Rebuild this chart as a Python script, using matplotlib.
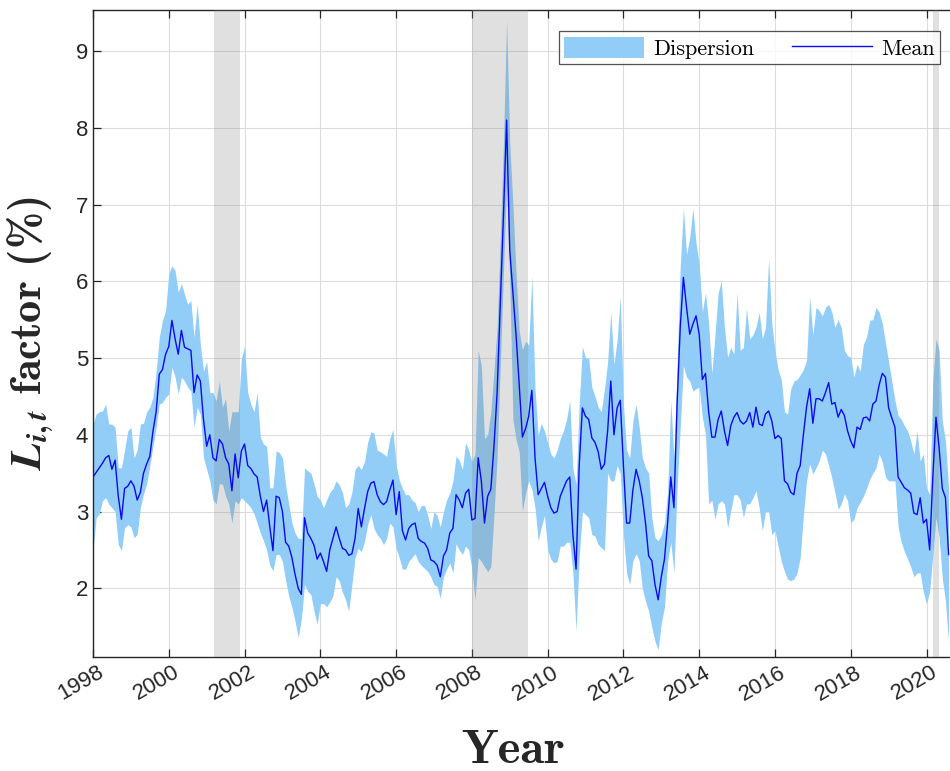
import numpy as np
import matplotlib
matplotlib.use('Agg')
import matplotlib.pyplot as plt
import matplotlib.transforms as mtransforms

plt.rcParams['mathtext.fontset'] = 'custom'
plt.rcParams['mathtext.it'] = 'STIXGeneral:italic:bold'
plt.rcParams['mathtext.rm'] = 'cmb10'
plt.rcParams['axes.unicode_minus'] = False

# 月度数据, 1998-01 起
mean_vals = [
    3.45, 3.51, 3.57, 3.63, 3.70, 3.73, 3.55, 3.67, 3.20, 2.90, 3.30, 3.33,  # 1998
    3.40, 3.33, 3.15, 3.25, 3.50, 3.62, 3.72, 4.05, 4.30, 4.79, 4.85, 5.05,  # 1999
    5.15, 5.49, 5.25, 5.05, 5.36, 5.14, 5.12, 5.10, 4.55, 4.78, 4.70, 4.20,  # 2000
    3.85, 4.00, 3.70, 3.66, 3.94, 3.88, 3.70, 3.62, 3.27, 3.75, 3.44, 3.79,  # 2001
    3.88, 3.60, 3.56, 3.49, 3.45, 3.20, 3.00, 3.15, 2.80, 2.49, 3.20, 3.18,  # 2002
    3.00, 2.60, 2.55, 2.40, 2.18, 2.00, 1.92, 2.92, 2.72, 2.65, 2.56, 2.38,  # 2003
    2.46, 2.35, 2.22, 2.50, 2.65, 2.80, 2.65, 2.52, 2.50, 2.43, 2.45, 2.65,  # 2004
    3.04, 2.80, 3.04, 3.26, 3.37, 3.39, 3.22, 3.13, 3.09, 3.13, 3.28, 3.41,  # 2005
    2.96, 3.26, 2.75, 2.63, 2.78, 2.83, 2.85, 2.65, 2.61, 2.59, 2.52, 2.37,  # 2006
    2.35, 2.30, 2.15, 2.42, 2.50, 2.72, 2.78, 3.22, 3.15, 3.05, 3.24, 3.29,  # 2007
    2.89, 2.91, 3.70, 3.40, 2.85, 3.20, 3.29, 3.85, 4.55, 5.70, 6.85, 8.10,  # 2008
    6.40, 5.85, 5.30, 4.65, 3.97, 4.08, 4.24, 4.58, 3.70, 3.22, 3.30, 3.38,  # 2009
    3.20, 3.05, 2.98, 3.00, 3.20, 3.30, 3.40, 3.45, 2.70, 2.25, 3.60, 4.35,  # 2010
    4.24, 4.20, 3.96, 3.90, 3.78, 3.55, 3.62, 4.05, 4.70, 4.00, 4.35, 4.45,  # 2011
    3.60, 2.85, 2.85, 3.28, 3.55, 3.40, 3.18, 2.85, 2.42, 2.36, 2.05, 1.85,  # 2012
    2.15, 2.38, 2.85, 3.45, 3.05, 4.40, 5.40, 6.05, 5.66, 5.31, 5.44, 5.55,  # 2013
    5.31, 4.72, 4.80, 4.30, 3.97, 3.97, 4.20, 4.31, 4.05, 3.86, 4.12, 4.23,  # 2014
    4.29, 4.18, 4.14, 4.18, 4.29, 4.10, 4.36, 4.14, 4.12, 4.27, 4.31, 4.18,  # 2015
    3.95, 3.99, 3.95, 3.40, 3.36, 3.25, 3.22, 3.50, 3.60, 4.00, 4.36, 4.60,  # 2016
    4.15, 4.47, 4.47, 4.44, 4.55, 4.68, 4.40, 4.42, 4.23, 4.33, 4.25, 4.05,  # 2017
    3.92, 3.83, 4.10, 4.07, 4.22, 4.23, 4.18, 4.40, 4.44, 4.65, 4.80, 4.75,  # 2018
    4.35, 4.22, 4.10, 3.45, 3.38, 3.31, 3.28, 3.24, 2.98, 2.96, 3.18, 2.85,  # 2019
    2.90, 2.50, 3.45, 4.23, 3.83, 3.30, 3.18, 2.44,                          # 2020
]

upper_vals = [
    4.14, 4.27, 4.30, 4.31, 4.40, 4.14, 4.14, 4.10, 3.57, 3.57, 3.80, 4.05,
    4.10, 3.70, 3.80, 4.14, 4.15, 4.30, 4.36, 4.49, 4.83, 5.27, 5.49, 5.62,
    6.10, 6.20, 6.14, 5.86, 5.97, 5.83, 5.70, 5.75, 5.27, 5.70, 5.18, 4.83,
    4.95, 4.55, 4.55, 4.44, 4.70, 4.36, 4.47, 4.05, 4.30, 4.30, 4.30, 5.00,
    5.15, 4.55, 4.40, 4.30, 4.55, 3.97, 3.88, 3.85, 3.31, 3.31, 3.79, 3.77,
    3.70, 3.35, 3.10, 2.85, 2.72, 2.65, 2.65, 3.57, 3.53, 3.50, 3.36, 3.20,
    3.15, 3.05, 3.15, 3.25, 3.30, 3.40, 3.35, 3.25, 3.05, 3.10, 3.25, 3.55,
    3.60, 3.55, 3.65, 3.90, 4.04, 4.02, 3.80, 3.78, 3.75, 3.72, 3.95, 4.07,
    3.61, 3.41, 3.30, 3.22, 3.22, 3.15, 3.12, 3.00, 3.08, 3.08, 2.95, 2.78,
    3.00, 2.95, 2.80, 3.00, 3.15, 3.24, 3.40, 3.72, 3.67, 3.55, 3.90, 3.80,
    3.65, 3.75, 5.10, 4.90, 3.95, 4.00, 4.30, 4.84, 5.40, 6.55, 7.80, 9.40,
    7.80, 7.00, 6.10, 5.35, 5.11, 5.22, 5.17, 6.07, 4.60, 4.00, 4.15, 4.05,
    3.90, 3.75, 3.70, 3.80, 3.95, 4.05, 4.20, 4.45, 3.55, 3.36, 4.40, 5.15,
    5.00, 5.00, 4.62, 4.50, 4.36, 4.30, 4.60, 4.95, 5.60, 4.92, 5.23, 5.80,
    4.40, 3.80, 3.70, 4.18, 4.40, 4.10, 3.70, 3.57, 3.50, 2.92, 2.66, 2.62,
    2.70, 2.85, 3.25, 4.45, 3.70, 4.90, 6.20, 6.95, 6.35, 6.57, 6.95, 6.50,
    6.23, 5.60, 5.85, 5.45, 4.80, 5.30, 5.85, 6.00, 5.40, 5.01, 5.14, 5.05,
    5.85, 5.10, 5.14, 5.65, 5.25, 5.30, 5.40, 5.60, 5.25, 5.40, 6.30, 5.44,
    5.10, 4.85, 4.72, 4.30, 4.27, 4.60, 4.70, 4.72, 4.78, 4.85, 4.97, 5.80,
    5.30, 5.66, 5.62, 5.55, 5.66, 5.70, 5.60, 5.40, 5.50, 5.40, 5.10, 5.03,
    5.01, 4.75, 4.92, 4.83, 5.18, 5.27, 5.49, 5.50, 5.66, 5.60, 5.45, 5.20,
    4.95, 4.70, 4.45, 4.25, 4.20, 4.12, 4.05, 3.92, 3.75, 4.05, 3.66, 3.75,
    3.31, 3.22, 4.70, 5.25, 5.10, 4.18, 3.92, 3.31,
]

lower_vals = [
    2.49, 2.92, 2.97, 3.14, 3.18, 3.10, 3.05, 3.00, 2.57, 2.49, 2.79, 2.83,
    2.80, 2.66, 2.70, 3.05, 3.23, 3.36, 3.60, 3.85, 4.10, 4.40, 4.42, 4.49,
    4.53, 4.88, 4.75, 4.53, 4.75, 4.70, 4.62, 4.57, 4.10, 4.36, 4.27, 3.70,
    3.55, 3.40, 3.15, 3.10, 3.36, 3.36, 3.20, 3.10, 2.85, 3.14, 3.10, 3.18,
    3.14, 3.10, 3.05, 2.97, 2.85, 2.72, 2.62, 2.50, 2.30, 2.23, 2.44, 2.44,
    2.35, 2.10, 1.90, 1.75, 1.57, 1.36, 1.60, 2.05, 1.96, 1.92, 1.70, 1.53,
    1.80, 1.80, 1.76, 1.82, 1.90, 2.15, 2.10, 1.95, 1.85, 1.70, 2.05, 2.40,
    2.52, 2.48, 2.61, 2.83, 2.96, 2.78, 2.70, 2.65, 2.57, 2.65, 2.85, 2.80,
    2.52, 2.40, 2.25, 2.25, 2.35, 2.40, 2.45, 2.35, 2.30, 2.26, 2.22, 2.15,
    2.05, 2.02, 1.87, 2.15, 2.25, 2.33, 2.20, 2.58, 2.50, 2.44, 2.55, 2.50,
    2.25, 1.85, 2.40, 2.35, 2.28, 2.22, 2.28, 2.95, 3.72, 4.90, 6.10, 7.30,
    6.00, 4.20, 3.94, 3.78, 3.00, 3.24, 3.40, 3.29, 3.05, 2.62, 2.80, 2.95,
    2.50, 2.38, 2.33, 2.35, 2.55, 2.55, 2.60, 2.60, 2.20, 1.45, 2.40, 3.00,
    2.96, 2.92, 2.70, 2.68, 2.57, 2.53, 2.49, 3.50, 3.40, 3.40, 3.60, 3.50,
    2.70, 2.20, 2.05, 2.36, 2.45, 2.36, 2.00, 1.83, 1.70, 1.49, 1.31, 1.20,
    1.55, 1.75, 2.35, 2.60, 2.20, 3.30, 4.10, 4.90, 4.75, 4.70, 4.57, 4.60,
    4.62, 4.23, 4.00, 3.10, 3.15, 2.90, 3.10, 3.14, 3.10, 2.79, 3.01, 3.22,
    3.22, 3.15, 2.92, 3.10, 3.10, 3.18, 3.27, 3.05, 2.75, 3.00, 3.00, 2.70,
    2.75, 2.55, 2.35, 2.22, 2.12, 2.10, 2.12, 2.20, 2.40, 2.95, 3.40, 3.62,
    3.49, 3.57, 3.66, 3.80, 3.75, 3.60, 3.44, 3.25, 3.03, 3.10, 3.23, 3.14,
    2.85, 2.90, 3.05, 3.12, 3.20, 3.30, 3.42, 3.50, 3.57, 3.75, 3.65, 3.45,
    3.40, 3.40, 3.40, 2.80, 2.60, 2.48, 2.38, 2.28, 2.15, 2.20, 2.20, 1.95,
    1.80, 1.96, 2.44, 2.92, 2.66, 2.13, 1.83, 1.30,
]

# 衰退期 (起, 止)
recessions = [(2001.2, 2001.87), (2008.0, 2009.47), (2020.17, 2020.33)]

year_ticks = list(range(1998, 2021, 2))
y_ticks = [2, 3, 4, 5, 6, 7, 8, 9]

t = 1998 + np.arange(len(mean_vals)) / 12.0

fig = plt.figure(figsize=(9.5, 7.71), dpi=100)
ax = fig.add_axes([93 / 950, 1 - 657 / 771, 1 - 93 / 950, 647 / 771])

ax.fill_between(t, lower_vals, upper_vals, color='#92CDF8', linewidth=0,
                zorder=2, label='Dispersion')
for a, b in recessions:
    ax.axvspan(a, b, color='#808080', alpha=0.24, linewidth=0, zorder=3)
ax.plot(t, mean_vals, color='#0A0AF0', linewidth=1.0, zorder=4, label='Mean')

ax.set_xlim(1998, 2020.62)
ax.set_ylim(1.105, 9.534)
ax.set_xticks(year_ticks)
ax.set_yticks(y_ticks)
ax.grid(True, color='#dcdcdc', linewidth=0.8, zorder=0)
ax.set_axisbelow(True)

for s in ['left', 'bottom', 'top']:
    ax.spines[s].set_color('#262626')
    ax.spines[s].set_linewidth(1.0)
ax.spines['right'].set_visible(False)
ax.tick_params(direction='in', length=6, width=0.9, colors='#262626',
               top=True, right=False, labelsize=16)
for lab in ax.get_yticklabels():
    lab.set_family('Liberation Sans')
ax.set_xticklabels([str(y) for y in year_ticks], rotation=30)
shift = mtransforms.ScaledTranslation(-12 / 100, 0, fig.dpi_scale_trans)
for lab in ax.get_xticklabels():
    lab.set_transform(lab.get_transform() + shift)
    lab.set_family('Liberation Sans')

ax.set_xlabel('Year', family='cmb10', fontsize=35, color='#262626')
ax.xaxis.set_label_coords(0.49, -0.113)
ax.set_ylabel(r'$L_{i,t}$ factor (%)', family='cmb10', fontsize=32,
              color='#262626')
ax.yaxis.set_label_coords(-0.044, 0.5)

leg = ax.legend(loc='upper right', bbox_to_anchor=(940 / 950, 1 - 31 / 771),
                bbox_transform=fig.transFigure, ncol=2, frameon=True,
                fancybox=False, prop={'family': 'cmr10', 'size': 16},
                handlelength=3.6, handleheight=1.1, columnspacing=1.7,
                borderpad=0.25, handletextpad=0.4, borderaxespad=0)
leg.get_frame().set_edgecolor('#262626')
leg.get_frame().set_linewidth(0.9)

fig.savefig('out.png', dpi=100)
